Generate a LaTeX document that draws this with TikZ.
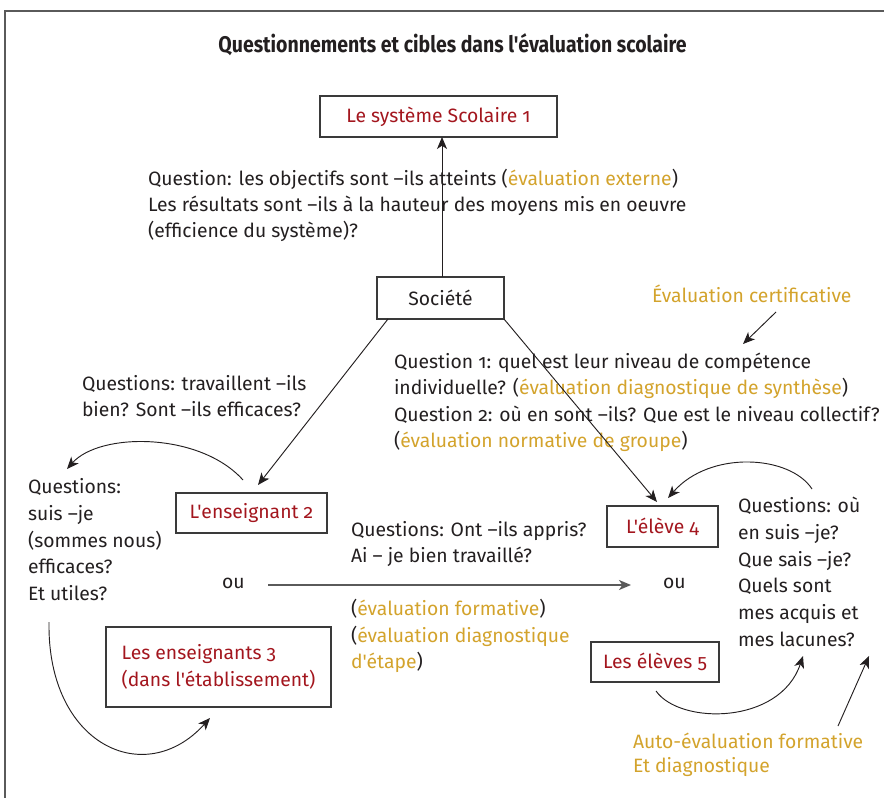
\documentclass[tikz,border=0pt]{standalone}
\usepackage{fontspec}
\newfontfamily\ff[Numbers=OldStyle]{Fira Sans}
\usetikzlibrary{arrows.meta,calc}
\definecolor{txt}{HTML}{231F20}
\definecolor{rouge}{HTML}{A3161E}
\definecolor{gold}{HTML}{D3A32C}
\definecolor{framec}{HTML}{5A5A5A}
\definecolor{boxc}{HTML}{3A3A3A}
\newcommand{\gd}[1]{\textcolor{gold}{#1}}
\begin{document}
\begin{tikzpicture}[x=0.75pt,y=-0.75pt,
  every node/.style={inner sep=0pt,outer sep=0pt,text=txt,font=\ff\fontsize{14.5}{20}\selectfont},
  lbl/.style={anchor=base west},
  boxn/.style={draw=boxc,line width=1.1pt,text=rouge},
  arr/.style={draw=txt,line width=0.7pt,-{Stealth[length=9pt,width=7.5pt,inset=2.5pt]}},
  garr/.style={draw=framec,line width=1.1pt,-{Stealth[length=9pt,width=7.5pt,inset=2.5pt]}}]
\useasboundingbox (0,0) rectangle (884,798);
\draw[framec,line width=1.5pt] (5,798) -- (5,11) -- (884,11);

% title
\node[anchor=base,font=\ff\fontsize{17}{20}\bfseries,xscale=0.86,transform shape] (title) at (452.5,53) {Questionnements et cibles dans l'évaluation scolaire};

% boxes
\node[boxn,minimum width=177.75pt,minimum height=30.75pt] (sys) at (438.5,116.5) {Le système Scolaire 1};
\node[boxn,text=txt,minimum width=95.25pt,minimum height=31.5pt] (soc) at (440.5,298) {Société};
\node[boxn,minimum width=113.25pt,minimum height=30pt] (ens) at (251.5,513) {L'enseignant 2};
\node[boxn,minimum width=168.75pt,minimum height=60pt,align=left] (ens3) at (218.5,667) {Les enseignants 3\\(dans l'établissement)};
\node[boxn,minimum width=83.25pt,minimum height=30.75pt] (eleve) at (662.5,526.5) {L'élève 4};
\node[boxn,minimum width=96pt,minimum height=30pt] (eleves) at (655,662) {Les élèves 5};

% block A
\node[lbl] (a1) at (148,186) {Question: les objectifs sont –ils atteints (\gd{évaluation externe})};
\node[lbl] (a2) at (148,212) {Les résultats sont –ils à la hauteur des moyens mis en oeuvre};
\node[lbl] (a3) at (148,238) {(efficience du système)?};

% certificative
\node[lbl,text=gold] (cert) at (652,302) {Évaluation certificative};

% block B
\node[lbl] (b1) at (394,368) {Question 1: quel est leur niveau de compétence};
\node[lbl] (b2) at (394,394) {individuelle? (\gd{évaluation diagnostique de synthèse})};
\node[lbl] (b3) at (394,421) {Question 2: où en sont –ils? Que est le niveau collectif?};
\node[lbl] (b4) at (394,447) {(\gd{évaluation normative de groupe})};

% block C
\node[lbl] (c1) at (82,390) {Questions: travaillent –ils};
\node[lbl] (c2) at (82,416) {bien? Sont –ils efficaces?};

% block D
\node[lbl] (d1) at (28,493) {Questions:};
\node[lbl] (d2) at (28,520) {suis –je};
\node[lbl] (d3) at (28,547) {(sommes nous)};
\node[lbl] (d4) at (28,573) {efficaces?};
\node[lbl] (d5) at (28,600) {Et utiles?};

% ou
\node[lbl] (ouL) at (222,588) {ou};
\node[lbl] (ouR) at (663,588) {ou};

% block E
\node[lbl] (e1) at (351,536) {Questions: Ont –ils appris?};
\node[lbl] (e2) at (351,562) {Ai – je bien travaillé?};

% block F
\node[lbl] (f1) at (351,615) {(\gd{évaluation formative})};
\node[lbl] (f2) at (351,642) {(\gd{évaluation diagnostique}};
\node[lbl] (f3) at (351,668) {\gd{d'étape})};

% block G
\node[lbl] (g1) at (738,512) {Questions: où};
\node[lbl] (g2) at (738,539) {en suis –je?};
\node[lbl] (g3) at (738,566) {Que sais –je?};
\node[lbl] (g4) at (738,592) {Quels sont};
\node[lbl] (g5) at (738,619) {mes acquis et};
\node[lbl] (g6) at (738,646) {mes lacunes?};

% block H
\node[lbl,text=gold] (h1) at (633,748) {Auto-évaluation formative};
\node[lbl,text=gold] (h2) at (633,772) {Et diagnostique};

% coordinates
\coordinate (certS) at (776,312);
\coordinate (certT) at (743,344);
\coordinate (ensT) at (258,485);
\coordinate (elT) at (657,502);
\coordinate (hS) at (268,585);
\coordinate (hT) at (631,585);
\coordinate (c1s) at (243,480);
\coordinate (c1t) at (67,469);
\coordinate (c2s) at (49,622);
\coordinate (c2t) at (210,718);
\coordinate (c3s) at (812,489);
\coordinate (c3t) at (668,498);
\coordinate (c4s) at (656,691);
\coordinate (c4t) at (803,656);
\coordinate (c5s) at (838,726);
\coordinate (c5t) at (869,656);

% connectors
\draw[arr] (soc.north -| 442,0) -- (sys.south -| 442,0);
\draw[arr] ($(soc.south west)+(11,0)$) -- (ensT);
\draw[arr] (soc.south east) -- (elT);
\draw[arr] (certS) -- (certT);
\draw[garr] (hS) -- (hT);
\draw[arr] (c1s) .. controls (200,432) and (100,432) .. (c1t);
\draw[arr] (c2s) .. controls (47,745) and (145,790) .. (c2t);
\draw[arr] (c3s) .. controls (790,455) and (710,450) .. (c3t);
\draw[arr] (c4s) .. controls (680,725) and (780,725) .. (c4t);
\draw[arr] (c5s) -- (c5t);
\end{tikzpicture}
\end{document}
